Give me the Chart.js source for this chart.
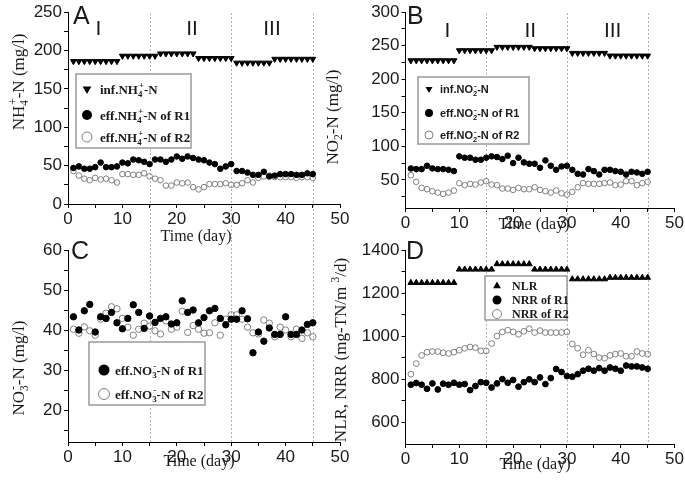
<!DOCTYPE html>
<html>
<head>
<meta charset="utf-8">
<script src="https://cdn.jsdelivr.net/npm/chart.js@4.4.0/dist/chart.umd.min.js"></script>
<style>
  html, body { margin: 0; padding: 0; background: #fff; }
  #wrap { position: relative; width: 685px; height: 482px; overflow: hidden; background: #fff; }
  #wrap canvas { position: absolute; left: 0; top: 0; }
</style>
</head>
<body>
<div id="wrap">
  <canvas id="chartA" width="685" height="482"></canvas>
  <canvas id="chartB" width="685" height="482"></canvas>
  <canvas id="chartC" width="685" height="482"></canvas>
  <canvas id="chartD" width="685" height="482"></canvas>
</div>
<script>
// operating days
const days = [1,2,3,4,5,6,7,8,9,10,11,12,13,14,15,16,17,18,19,20,21,22,23,24,25,26,27,28,29,30,31,32,33,34,35,36,37,38,39,40,41,42,43,44,45]
const xTicks = [0,5,10,15,20,25,30,35,40,45,50]
const phaseDays = [15, 30, 45]

// A: ammonium (mg/l)
const aInf = [186,186,186,186,186,186,186,186,186, 193,193,193,193,193,193,193, 196,196,196,196,196,196,196, 190,190,190,190,190,190,190, 184,184,184,184,184,184,184, 189,189,189,189,189,189,189,189]
const aR1 = [47,49,46,46,48,54,48,48,49, 54,53,58,57,55,52,58,58,55,58, 62,59,62,60,58,57,54,52,46,49, 52,43,43,41,38,38,42,36,37,39, 39,39,38,38,40,39]
const aR2 = [43,37,33,31,34,32,33,31,28, 39,39,38,38,40,36,33,31,24,24, 28,27,28,22,19,22,26,26,26,27, 25,25,27,31,28,34,36,37,35,35, 35,35,34,35,35,34]
const aYTicks = [0,25,50,75,100,125,150,175,200,225,250]

// B: nitrite (mg/l)
const bInf = [228,228,228,228,228,228,228,228,228, 243,243,243,243,243,243,243, 248,248,248,248,248,248,248, 246,246,246,246,246,246,246, 239,239,239,239,239,239,239, 235,235,235,235,235,235,235,235]
const bR1 = [67,66,66,71,67,66,66,65,63, 85,83,83,80,80,83,85,84,81,86, 75,83,76,74,74,68,79,71,65,70, 71,65,59,58,66,63,58,65,65,63, 62,58,62,61,59,62]
const bR2 = [57,47,38,36,33,31,29,31,34, 45,42,44,43,46,48,43,42,37,37, 35,38,36,36,39,35,33,31,34,30, 28,32,39,45,44,44,44,45,46,42, 43,48,48,42,45,47]
const bYTicks = [25,50,75,100,125,150,175,200,225,250,275,300]

// C: nitrate (mg/l)
const cR1 = [43.3,40,44.8,46.4,39.5,43.3,42.9,44.4,41.8, 40.3,42.9,46.3,44.4,40.4,43.5,41.9,42.9,43.3,41.5, 41.8,47.3,44.4,45,41.8,43.1,44.8,45.4,42.9,41.3, 42.7,42.7,44.8,42.8,34.3,39.5,37.2,40.5,38.9,38.9, 43.3,38.9,38.9,40,41.4,41.8]
const cR2 = [40.2,39.2,40.8,39.8,38.7,42.7,44.2,45.8,45.3, 42.9,40.7,38.7,40.2,41.7,41,39.8,39,42.3,40.2, 40.7,44.7,39.4,41.1,40.2,39.2,39.3,41.8,38.7,42.7, 43.8,43.8,42.7,40.7,39.3,39,42.5,41.7,38.3,40.7, 40,38.3,40.2,37.9,39.3,38.3]
const cYTicks = [15,20,25,30,35,40,45,50,55,60]

// D: loading / removal rates (mg-TN/m3/d)
const dNLR = [1248,1248,1248,1248,1248,1248,1248,1248,1248, 1310,1310,1310,1310,1310,1310,1310, 1335,1335,1335,1335,1335,1335,1335, 1310,1310,1310,1310,1310,1310,1310, 1265,1265,1265,1265,1265,1265,1265, 1272,1272,1272,1272,1272,1272,1272,1272]
const dR1 = [775,783,775,756,781,753,780,775,784, 775,778,750,769,787,784,762,781,801,784, 797,766,787,800,787,809,778,806,848,834, 815,812,824,840,849,840,852,840,855,849, 840,864,860,860,855,849]
const dR2 = [824,873,911,926,929,929,923,920,926, 935,944,950,947,932,932,966,1001,1020,1028, 1020,1009,1023,1035,1017,1026,1017,1017,1017,1017, 1020,964,944,914,935,917,901,898,911,917, 920,907,907,929,920,917]
const dYTicks = [600,700,800,900,1000,1100,1200,1300,1400]

const SERIF = '"Liberation Serif", "Times New Roman", serif'
const SANS = '"Liberation Sans", Arial, sans-serif'
const INK = '#1a1a1a'

const pts = (ys) => ys.map((y, i) => ({ x: days[i], y: y }))

function triSet(ys, down, r) {
    return {
        data: pts(ys), showLine: false,
        pointStyle: 'triangle', pointRotation: down ? 180 : 0, pointRadius: r,
        pointBackgroundColor: '#000', pointBorderColor: '#000', pointBorderWidth: 1,
    }
}
function dotSet(ys, r) {
    return {
        data: pts(ys), showLine: false,
        pointStyle: 'circle', pointRadius: r,
        pointBackgroundColor: '#000', pointBorderColor: '#000', pointBorderWidth: 1,
    }
}
function ringSet(ys, r) {
    return {
        data: pts(ys), showLine: false,
        pointStyle: 'circle', pointRadius: r,
        pointBackgroundColor: 'rgba(255,255,255,0)', pointBorderColor: '#808080', pointBorderWidth: 1,
    }
}

// tiny markup: _x = subscript char, ^x = superscript char
function parseRich(s) {
    const segs = []
    let buf = ''
    for (let i = 0; i < s.length; i++) {
        const c = s[i]
        if ((c === '_' || c === '^') && i + 1 < s.length) {
            if (buf) { segs.push({ t: buf, m: 0 }); buf = '' }
            segs.push({ t: s[i + 1], m: c === '_' ? 1 : 2 })
            i++
        } else buf += c
    }
    if (buf) segs.push({ t: buf, m: 0 })
    return segs
}
function drawRich(ctx, s, x, y, size, weight, family, align) {
    const out = []
    let pos = 0, lastSub = null
    parseRich(s).forEach(g => {
        const fs = g.m ? size * 0.68 : size
        const font = weight + ' ' + fs + 'px ' + family
        ctx.font = font
        const w = ctx.measureText(g.t).width
        let gx = pos
        if (g.m === 2 && lastSub !== null) { gx = lastSub + 1; pos = Math.max(pos, gx + w) }
        else pos += w
        const dy = g.m === 1 ? size * 0.25 : g.m === 2 ? -size * 0.42 : 0
        out.push({ t: g.t, font: font, gx: gx, dy: dy })
        lastSub = g.m === 1 ? gx : null
    })
    const x0 = align === 'center' ? x - pos / 2 : x
    ctx.textAlign = 'left'
    ctx.textBaseline = 'alphabetic'
    out.forEach(g => { ctx.font = g.font; ctx.fillText(g.t, x0 + g.gx, y + g.dy) })
}
function drawRichV(ctx, s, cx, cy, size, weight, family) {
    ctx.save()
    ctx.translate(cx, cy)
    ctx.rotate(-Math.PI / 2)
    drawRich(ctx, s, 0, size * 0.35, size, weight, family, 'center')
    ctx.restore()
}

function marker(ctx, type, x, y, r) {
    ctx.save()
    ctx.beginPath()
    if (type === 'down') {
        ctx.moveTo(x - r * 0.87, y - r * 0.5); ctx.lineTo(x + r * 0.87, y - r * 0.5); ctx.lineTo(x, y + r)
        ctx.closePath(); ctx.fillStyle = '#000'; ctx.fill()
    } else if (type === 'up') {
        ctx.moveTo(x - r * 0.87, y + r * 0.5); ctx.lineTo(x + r * 0.87, y + r * 0.5); ctx.lineTo(x, y - r)
        ctx.closePath(); ctx.fillStyle = '#000'; ctx.fill()
    } else if (type === 'dot') {
        ctx.arc(x, y, r, 0, Math.PI * 2); ctx.fillStyle = '#000'; ctx.fill()
    } else {
        ctx.arc(x, y, r, 0, Math.PI * 2); ctx.strokeStyle = '#808080'; ctx.lineWidth = 1; ctx.stroke()
    }
    ctx.restore()
}

function deco(cfg) {
    return {
        id: 'deco',
        beforeDatasetsDraw(chart) {
            const ctx = chart.ctx, xs = chart.scales.x
            ctx.save()
            ctx.strokeStyle = '#b4b4b4'
            ctx.lineWidth = 1
            ctx.setLineDash([2, 2])
            phaseDays.forEach(v => {
                const px = Math.round(xs.getPixelForValue(v)) + 0.5
                ctx.beginPath(); ctx.moveTo(px, cfg.vTop); ctx.lineTo(px, cfg.vBot); ctx.stroke()
            })
            ctx.restore()
        },
        afterDatasetsDraw(chart) {
            const ctx = chart.ctx, L = cfg.legend
            ctx.save()
            ctx.fillStyle = '#fff'
            ctx.fillRect(L.x, L.y, L.w, L.h)
            ctx.strokeStyle = '#9a9a9a'
            ctx.lineWidth = 1.5
            ctx.strokeRect(L.x, L.y, L.w, L.h)
            L.items.forEach((it, i) => {
                marker(ctx, it[0], L.mx, L.rows[i], L.r)
                ctx.fillStyle = INK
                drawRich(ctx, it[1], L.tx, L.rows[i] + L.size * 0.35, L.size, 'bold', L.family || SERIF, 'left')
            })
            ctx.restore()
        },
        afterDraw(chart) {
            const ctx = chart.ctx, xs = chart.scales.x
            ctx.save()
            ctx.fillStyle = INK
            ctx.font = '25px ' + SANS
            ctx.textAlign = 'left'
            ctx.textBaseline = 'alphabetic'
            ctx.fillText(cfg.letter[0], cfg.letter[1], cfg.letter[2])
            if (cfg.phases) {
                ctx.font = '21px ' + SANS
                ctx.textAlign = 'center'
                cfg.phases.forEach(p => ctx.fillText(p[0], xs.getPixelForValue(p[1]), cfg.phaseY))
            }
            ctx.fillStyle = INK
            drawRich(ctx, 'Time (day)', cfg.xTitle[0], cfg.xTitle[1], 16, 'normal', SERIF, 'center')
            drawRichV(ctx, cfg.yTitle[0], cfg.yTitle[1], cfg.yTitle[2], 17, 'normal', SERIF)
            ctx.restore()
        }
    }
}

function xAxis() {
    return {
        type: 'linear', min: 0, max: 50,
        afterBuildTicks: (s) => { s.ticks = xTicks.map(v => ({ value: v })) },
        afterFit: (s) => { s.height = 30 },
        ticks: {
            autoSkip: false, maxRotation: 0, padding: 1, color: INK,
            font: { family: SANS, size: 17 },
            callback: (v) => (v % 10 === 0 ? String(v) : ''),
        },
        grid: { drawOnChartArea: false, drawTicks: true, tickLength: 4, tickColor: '#000', tickWidth: 1 },
        border: { display: true, color: '#000', width: 1 },
    }
}
function yAxis(min, max, ticks, every) {
    return {
        type: 'linear', min: min, max: max,
        afterBuildTicks: (s) => { s.ticks = ticks.map(v => ({ value: v })) },
        afterFit: (s) => { s.width = 50 },
        ticks: {
            autoSkip: false, padding: 2, color: INK,
            font: { family: SANS, size: 17 },
            callback: (v) => (v % every === 0 ? String(v) : ''),
        },
        grid: { drawOnChartArea: false, drawTicks: true, tickLength: 4, tickColor: '#000', tickWidth: 1 },
        border: { display: true, color: '#000', width: 1 },
    }
}

function panel(id, cfg) {
    const a = cfg.area
    return new Chart(document.getElementById(id), {
        type: 'scatter',
        data: { datasets: cfg.datasets },
        options: {
            responsive: false,
            animation: false,
            events: [],
            layout: { padding: { left: a.l - 50, top: a.t, right: 685 - a.r, bottom: 482 - a.b - 30 } },
            plugins: { legend: { display: false }, tooltip: { enabled: false } },
            scales: { x: xAxis(), y: yAxis(cfg.yMin, cfg.yMax, cfg.yTicks, cfg.every) },
        },
        plugins: [deco(cfg)],
    })
}

panel('chartA', {
    area: { l: 68, r: 340, t: 10, b: 204 },
    yMin: 0, yMax: 250, yTicks: aYTicks, every: 50,
    datasets: [triSet(aInf, true, 3.4), dotSet(aR1, 2.8), ringSet(aR2, 2.8)],
    vTop: 13, vBot: 240,
    letter: ['A', 73, 24],
    phases: [['I', 5.6], ['II', 22.8], ['III', 37.5]], phaseY: 35,
    xTitle: [196, 241],
    yTitle: ['NH_4^+-N (mg/l)', 18, 82],
    legend: {
        x: 76, y: 74, w: 115, h: 74, rows: [89, 115, 137], mx: 87, tx: 100, r: 5, size: 13,
        items: [['down', 'inf.NH_4^+-N'], ['dot', 'eff.NH_4^+-N of R1'], ['ring', 'eff.NH_4^+-N of R2']],
    },
})

panel('chartB', {
    area: { l: 405.5, r: 676.5, t: 12, b: 208 },
    yMin: 8, yMax: 300, yTicks: bYTicks, every: 50,
    datasets: [triSet(bInf, true, 3.4), dotSet(bR1, 2.8), ringSet(bR2, 2.8)],
    vTop: 13, vBot: 240,
    letter: ['B', 407, 24],
    phases: [['I', 7.8], ['II', 23.2], ['III', 38.5]], phaseY: 37,
    xTitle: [534, 229],
    yTitle: ['NO_2^--N (mg/l)', 332, 117],
    legend: {
        x: 418, y: 77, w: 111, h: 67, rows: [89, 113, 135], mx: 429, tx: 440, r: 4, size: 11, family: SANS,
        items: [['down', 'inf.NO_2^--N'], ['dot', 'eff.NO_2^--N of R1'], ['ring', 'eff.NO_2^--N of R2']],
    },
})

panel('chartC', {
    area: { l: 68, r: 340, t: 250, b: 442 },
    yMin: 12, yMax: 60, yTicks: cYTicks, every: 10,
    datasets: [dotSet(cR1, 3.2), ringSet(cR2, 3.2)],
    vTop: 240, vBot: 442,
    letter: ['C', 71, 259],
    xTitle: [199, 466],
    yTitle: ['NO_3^--N (mg/l)', 18, 368],
    legend: {
        x: 89, y: 342, w: 116, h: 63, rows: [370, 394], mx: 104, tx: 115, r: 5.5, size: 13,
        items: [['dot', 'eff.NO_3^--N of R1'], ['ring', 'eff.NO_3^--N of R2']],
    },
})

panel('chartD', {
    area: { l: 405.5, r: 676.5, t: 250, b: 444 },
    yMin: 500, yMax: 1400, yTicks: dYTicks, every: 200,
    datasets: [triSet(dNLR, false, 3.4), dotSet(dR1, 2.9), ringSet(dR2, 2.9)],
    vTop: 240, vBot: 444,
    letter: ['D', 406, 259],
    xTitle: [535, 469],
    yTitle: ['NLR, NRR (mg-TN/m ^3/d)', 340, 350],
    legend: {
        x: 485, y: 276, w: 82, h: 44, rows: [286, 300, 314], mx: 497, tx: 512, r: 4.5, size: 12,
        items: [['up', 'NLR'], ['dot', 'NRR of R1'], ['ring', 'NRR of R2']],
    },
})
</script>
</body>
</html>
